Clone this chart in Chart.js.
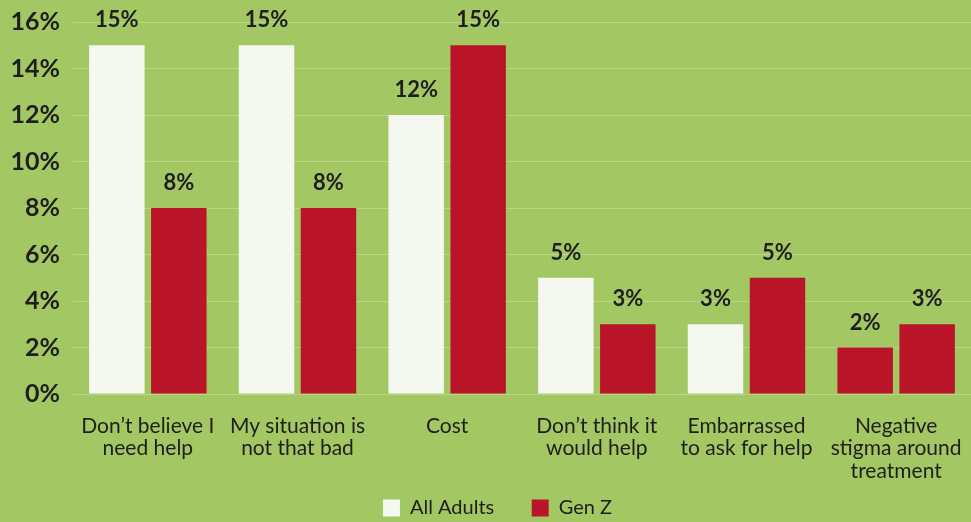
<!DOCTYPE html>
<html>
<head>
<meta charset="utf-8">
<script src="https://cdn.jsdelivr.net/npm/chart.js@4"></script>
<style>
  html, body { margin: 0; padding: 0; background: #a3c763; }
  #wrap { width: 971px; height: 522px; }
</style>
</head>
<body>
<div id="wrap"><canvas id="chart" width="971" height="522"></canvas></div>
<script>
// Reasons for not seeking help, share of respondents (%)
const categories = [
  ["Don\u2019t believe I", "need help"],
  ["My situation is", "not that bad"],
  "Cost",
  ["Don\u2019t think it", "would help"],
  ["Embarrassed", "to ask for help"],
  ["Negative", "stigma around", "treatment"]
];
const allAdults = [15, 15, 12, 5, 3, 2];
const genZ = [8, 8, 15, 3, 5, 3];
const seriesNames = ["All Adults", "Gen Z"];
const yTicks = [0, 2, 4, 6, 8, 10, 12, 14, 16];

const BG = "#a3c763";
const WHITE = "#f5f8f0";
const RED = "#b91428";
const INK = "#1e1e1e";
const FONT = "Lato, 'Noto Sans', sans-serif";

const Y_FONT_SIZE = 25;
const PLOT_LEFT = 73;      // x of the plot's left edge
const Y_LABEL_RIGHT = 60;  // right edge of the y tick labels
const PAD_LEFT = 23;

// the last "All Adults" bar is shown in red
const adultColors = allAdults.map((v, i) => i === allAdults.length - 1 ? RED : WHITE);

// widest y tick label, used to right-align the mirrored tick labels
const measure = document.createElement("canvas").getContext("2d");
measure.font = "bold " + Y_FONT_SIZE + "px " + FONT;
const widestTick = Math.max(...yTicks.map(v => measure.measureText(v + "%").width));

const background = {
  id: "background",
  beforeDraw(chart) {
    const ctx = chart.ctx;
    ctx.save();
    ctx.fillStyle = BG;
    ctx.fillRect(0, 0, chart.width, chart.height);
    ctx.restore();
  }
};

const valueLabels = {
  id: "valueLabels",
  afterDatasetsDraw(chart) {
    const ctx = chart.ctx;
    ctx.save();
    ctx.font = "bold 22px " + FONT;
    ctx.fillStyle = INK;
    ctx.textAlign = "center";
    ctx.textBaseline = "middle";
    chart.data.datasets.forEach((ds, di) => {
      const meta = chart.getDatasetMeta(di);
      meta.data.forEach((bar, i) => {
        ctx.fillText(ds.data[i] + "%", bar.x, bar.y - 25);
      });
    });
    ctx.restore();
  }
};

new Chart(document.getElementById("chart"), {
  type: "bar",
  data: {
    labels: categories,
    datasets: [
      {
        label: seriesNames[0],
        data: allAdults,
        backgroundColor: adultColors,
        borderWidth: 0
      },
      {
        label: seriesNames[1],
        data: genZ,
        backgroundColor: RED,
        borderWidth: 0
      }
    ]
  },
  options: {
    responsive: false,
    animation: false,
    categoryPercentage: 0.828,
    barPercentage: 0.895,
    layout: { padding: { top: 22, left: PAD_LEFT, right: -1, bottom: -6 } },
    plugins: {
      legend: {
        position: "bottom",
        labels: {
          font: { family: FONT, size: 20 },
          color: INK,
          boxWidth: 17,
          boxHeight: 17,
          padding: 10,
          generateLabels() {
            // extra spaces after the first entry widen the gap between the two items
            return [
              { text: seriesNames[0] + "\u2003\u2002\u2009", fillStyle: WHITE, strokeStyle: WHITE, lineWidth: 0, fontColor: INK, datasetIndex: 0 },
              { text: seriesNames[1], fillStyle: RED, strokeStyle: RED, lineWidth: 0, fontColor: INK, datasetIndex: 1 }
            ];
          }
        }
      },
      tooltip: { enabled: false }
    },
    scales: {
      x: {
        grid: { display: false },
        border: { display: false },
        ticks: {
          color: INK,
          font: { family: FONT, size: 21, lineHeight: 1.07 },
          padding: 13,
          maxRotation: 0,
          autoSkip: false
        },
        afterFit(scale) {
          scale.height = 94;
          scale.paddingLeft = 0;
          scale.paddingRight = 0;
        }
      },
      y: {
        min: 0,
        max: 16,
        afterBuildTicks(scale) { scale.ticks = yTicks.map(v => ({ value: v })); },
        grid: { color: "rgba(255,255,255,0.25)", lineWidth: 1, drawTicks: false },
        border: { display: false },
        ticks: {
          color: INK,
          font: { family: FONT, size: Y_FONT_SIZE, weight: "bold" },
          mirror: true,
          crossAlign: "far",
          padding: Y_LABEL_RIGHT - PLOT_LEFT - widestTick,
          callback: v => v + "%"
        },
        afterFit(scale) {
          scale.width = PLOT_LEFT - PAD_LEFT;
          scale.paddingTop = 0;
          scale.paddingBottom = 0;
        }
      }
    }
  },
  plugins: [background, valueLabels]
});
</script>
</body>
</html>
